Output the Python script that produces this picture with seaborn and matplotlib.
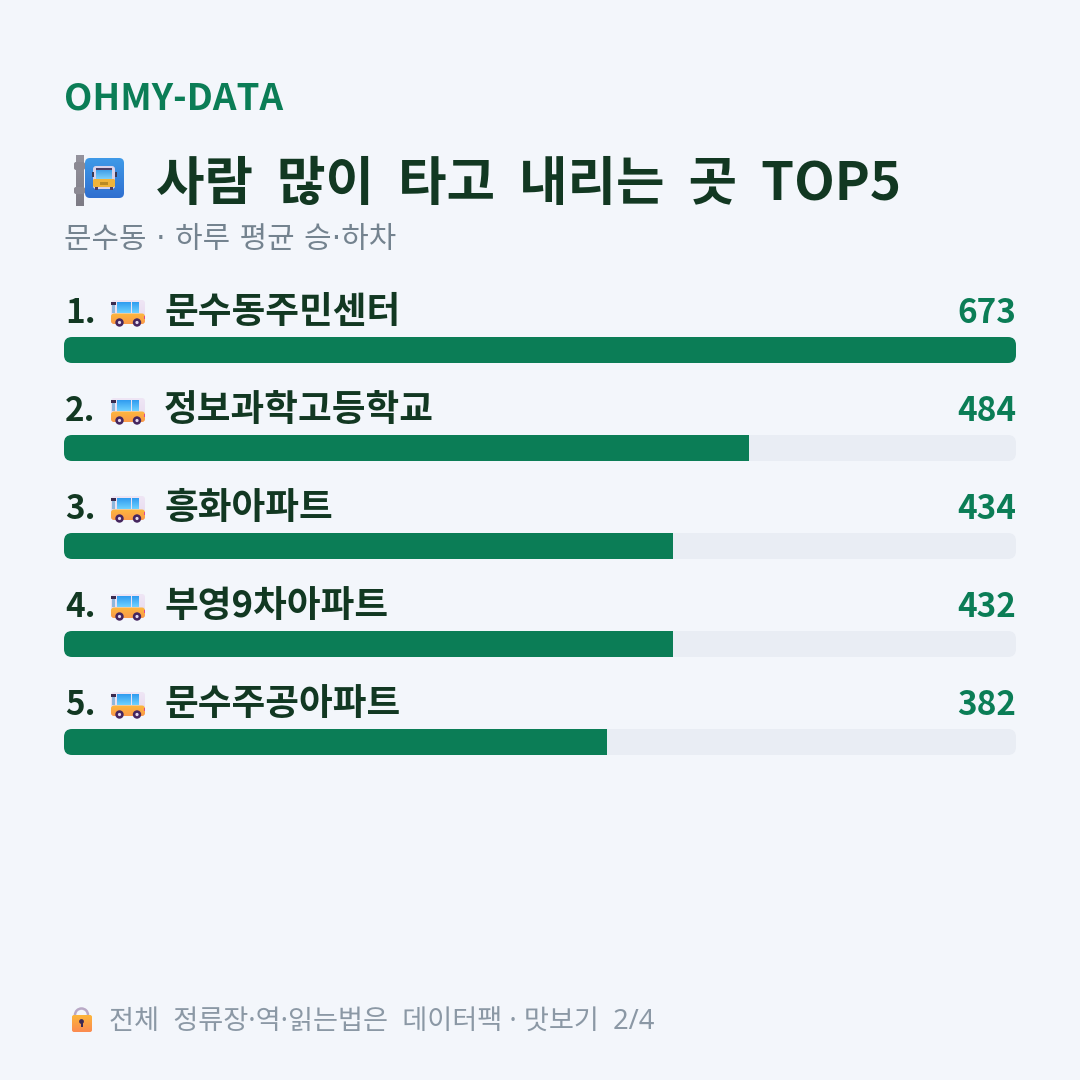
import matplotlib
matplotlib.use("Agg")
import matplotlib.pyplot as plt
from matplotlib.colors import LinearSegmentedColormap
from matplotlib.patches import Circle, FancyBboxPatch, Rectangle
import numpy as np
import pandas as pd
import seaborn as sns

brand = "OHMY-DATA"
# Double spaces open the word gaps up to the wide setting of the headline.
title = "사람  많이  타고  내리는  곳  TOP5"
subtitle = "문수동 · 하루 평균 승·하차"
footer = "전체  정류장·역·읽는법은  데이터팩 · 맛보기  2/4"
stops = ["문수동주민센터", "정보과학고등학교", "흥화아파트", "부영9차아파트", "문수주공아파트"]
boardings = [673, 484, 434, 432, 382]

BG = "#f3f6fb"
TRACK = "#e9edf4"
GREEN = "#0b7d56"
INK = "#123822"
GREY = "#74838f"
FOOT = "#8b98a5"
CJK = ["Noto Sans CJK KR", "DejaVu Sans"]
# DejaVu supplies the broader space and middle dot for the subtitle line.
WIDE = ["DejaVu Sans", "Noto Sans CJK KR"]
# Noto Sans sets the footer's digits, spaces and dots.
FOOT_FONT = ["Noto Sans", "Noto Sans CJK KR"]
W = 1080.0

sns.set_theme(style="white")
plt.rcParams["font.family"] = CJK

df = pd.DataFrame({"stop": stops, "boardings": boardings})
# Bar lengths are whole percentages of the busiest stop.
df["share"] = np.round(df["boardings"] / df["boardings"].max() * 100)
df["full"] = 100.0

fig = plt.figure(figsize=(10.8, 10.8), dpi=100, facecolor=BG)


def px_axes(left, top, right, bottom):
    return fig.add_axes([left / W, 1 - bottom / W, (right - left) / W, (bottom - top) / W])


# Bars: a pale full-width track with the green share on top of it.
ax = px_axes(64, 301, 1016, 791)
ax.patch.set_alpha(0)
bar_w = 26 / 98
sns.barplot(data=df, x="full", y="stop", color=TRACK, saturation=1, width=bar_w, ax=ax, zorder=1)
n_track = len(ax.patches)
sns.barplot(data=df, x="share", y="stop", color=GREEN, saturation=1, width=bar_w, ax=ax, zorder=2)
ax.set_xlim(0, 100)
ax.set_ylim(len(stops) - 0.5, -0.5)
ax.axis("off")
tracks = ax.patches[:n_track]
fills = ax.patches[n_track:]
for tr, fl in zip(tracks, fills):
    tr.set_linewidth(0)
    fl.set_linewidth(0)
    # Rounded ends come from clipping each bar to its track's outline.
    x0, y0 = ax.transData.transform((tr.get_x(), tr.get_y()))
    x1, y1 = ax.transData.transform((tr.get_x() + tr.get_width(), tr.get_y() + tr.get_height()))
    lo, hi = min(y0, y1), max(y0, y1)
    clip = FancyBboxPatch((x0 + 8, lo + 8), x1 - x0 - 16, hi - lo - 16,
                          boxstyle="round,pad=8,rounding_size=8", transform=None)
    tr.set_clip_path(clip)
    fl.set_clip_path(clip)

# Overlay in pixel units for the text and the small pictograms.
ov = px_axes(0, 0, W, W)
ov.patch.set_alpha(0)
ov.axis("off")


def gradient(x0, y0, x1, y1, c_top, c_bot, radius=0.0, z=3):
    cmap = LinearSegmentedColormap.from_list("g", [c_top, c_bot])
    im = ov.imshow(np.linspace(0, 1, 64)[:, None], extent=(x0, x1, y1, y0), cmap=cmap,
                   aspect="auto", zorder=z, interpolation="bilinear")
    if radius:
        clip = FancyBboxPatch((x0 + radius, y0 + radius), x1 - x0 - 2 * radius, y1 - y0 - 2 * radius,
                              boxstyle=f"round,pad={radius},rounding_size={radius}",
                              transform=ov.transData, fill=False, lw=0)
        ov.add_patch(clip)
        im.set_clip_path(clip)


def box(x, y, w, h, color, z=4, r=0.0):
    if r:
        ov.add_patch(FancyBboxPatch((x + r, y + r), w - 2 * r, h - 2 * r,
                                    boxstyle=f"round,pad={r},rounding_size={r}",
                                    fc=color, lw=0, zorder=z))
    else:
        ov.add_patch(Rectangle((x, y), w, h, fc=color, lw=0, zorder=z))


def bus(x, y):
    gradient(x, y, x + 34, y + 24, "#efe6f5", "#e6d9ee", radius=3, z=3)
    gradient(x, y + 13.5, x + 34, y + 24, "#fdb83c", "#fb9a4a", radius=3, z=4)
    box(x, y + 1.5, 5, 3, "#3a2a4e", z=5)
    box(x + 1, y + 4.5, 3, 8, "#8fb7dc", z=5)
    for wx in (x + 5.5, x + 13, x + 20.5):
        gradient(wx, y + 2, wx + 6.2, y + 13, "#2f9bf0", "#6fd2ff", z=5)
    box(x + 32.5, y + 16, 1.5, 3, "#e0478f", z=6)
    for cx in (x + 8.5, x + 26):
        ov.add_patch(Circle((cx, y + 22.5), 4.2, fc="#45265f", lw=0, zorder=6))
        ov.add_patch(Circle((cx, y + 22.5), 1.6, fc="#e4d9ef", lw=0, zorder=7))


def stop_sign():
    gradient(76, 155, 84, 206, "#95939d", "#7d7b85", z=3)
    box(74, 162, 11, 8, "#8b8993", z=4, r=2)
    box(74, 187, 11, 7, "#8b8993", z=4, r=2)
    gradient(85, 158, 124, 198, "#3f9ae8", "#2f6fd0", radius=5, z=5)
    box(93, 166, 22, 23, "#d9d2ea", z=6, r=3)
    gradient(96, 170, 112, 179, "#3f9fe9", "#7ed0fa", z=7)
    box(96, 168, 16, 2, "#4a3f66", z=7)
    box(93, 179, 22, 8, "#f0b43a", z=7, r=1.5)
    box(100, 182, 8, 2.5, "#b98a26", z=8)
    box(91.5, 172, 2, 5, "#3c3a55", z=7)
    box(115, 172, 2, 5, "#3c3a55", z=7)
    box(95, 187, 3, 3, "#4a3f66", z=6)
    box(110, 187, 3, 3, "#4a3f66", z=6)


def lock(x, y):
    ov.add_patch(Circle((x + 11.5, y + 9), 6.5, fc="none", ec="#b9a9c6", lw=1.8, zorder=3))
    gradient(x + 2, y + 9, x + 22, y + 26, "#fdb63a", "#fb8a50", radius=2, z=4)
    ov.add_patch(Circle((x + 11.5, y + 15.5), 2.4, fc="#3d2a55", lw=0, zorder=5))
    box(x + 10.5, y + 16, 2, 5, "#3d2a55", z=5)


ov.text(64, 110, brand, fontsize=26.5, fontweight="bold", color=GREEN, va="baseline")
stop_sign()
ov.text(156, 200, title, fontsize=38, fontweight="bold", color=INK, va="baseline")
ov.text(64, 248, subtitle, fontsize=21.5, color=GREY, va="baseline", family=WIDE)

for i, (name, val) in enumerate(zip(stops, boardings)):
    base = 323 + 98 * i
    ov.text(65, base, f"{i + 1}.", fontsize=24, fontweight="bold", color=INK, va="baseline")
    bus(111, base - 23)
    ov.text(164, base, name, fontsize=26.4, fontweight="bold", color=INK, va="baseline")
    ov.text(1016, base, f"{val}", fontsize=24, fontweight="bold", color=GREEN, va="baseline", ha="right")

lock(70, 1006)
ov.text(109, 1030, footer, fontsize=19.6, color=FOOT, va="baseline", family=FOOT_FONT)

ov.set_xlim(0, W)
ov.set_ylim(W, 0)
fig.savefig("out.png", dpi=100, facecolor=BG)
